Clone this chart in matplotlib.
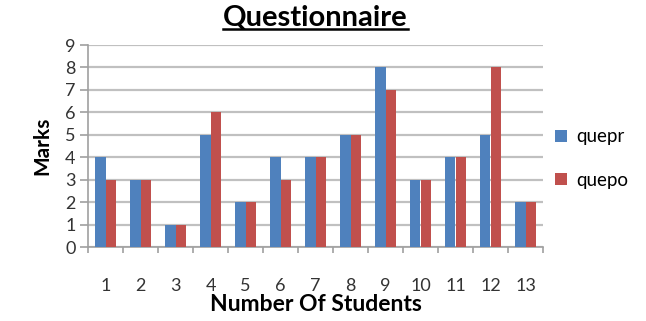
import numpy as np
import matplotlib.pyplot as plt

students = ['1', '2', '3', '4', '5', '6', '7', '8', '9', '10', '11', '12', '13']
quepr = [4, 3, 1, 5, 2, 4, 4, 5, 8, 3, 4, 5, 2]
quepo = [3, 3, 1, 6, 2, 3, 4, 5, 7, 3, 4, 8, 2]

plt.rcParams['font.family'] = ['Lato', 'DejaVu Sans']

fig = plt.figure(figsize=(6.46, 3.21), dpi=100)
ax = fig.add_axes([88/646, 1 - 247/321, (543-88)/646, (247-45)/321])

x = np.arange(len(students))
w = 0.286
ax.bar(x - w/2, quepr, w, color='#4F81BD', label='quepr', zorder=3)
ax.bar(x + w/2, quepo, w, color='#C0504D', label='quepo', zorder=3)

ax.set_xlim(-0.5, len(students) - 0.5)
ax.set_ylim(0, 9)
ax.set_yticks(range(10))
ax.yaxis.grid(True, color='#c0c0c0', linewidth=1.6, zorder=0)
ax.set_xticks(x)
ax.set_xticklabels(students, fontsize=13, color='#333333')
ax.set_xticks(np.arange(-0.5, len(students)), minor=True)
ax.tick_params(axis='x', which='major', length=0, pad=22)
ax.tick_params(axis='x', which='minor', length=4, color='#a0a0a0', width=1.2)
ax.tick_params(axis='y', length=6, color='#a0a0a0', width=1.2, labelsize=13, labelcolor='#333333', pad=3)

for s in ['top', 'right']:
    ax.spines[s].set_visible(False)
for s in ['left', 'bottom']:
    ax.spines[s].set_color('#a0a0a0')
    ax.spines[s].set_linewidth(1.2)

ax.set_ylabel('Marks', fontsize=15, fontweight='bold', labelpad=9)
ax.set_xlabel('Number Of Students', fontsize=16.5, fontweight='bold', labelpad=0)
fig.text((88+543)/2/646, 1 - 18/321, 'Questionnaire', ha='center', va='center',
         fontsize=21, fontweight='bold')
# underline the title
t = fig.texts[-1]
fig.canvas.draw()
bb = t.get_window_extent().transformed(fig.transFigure.inverted())
fig.add_artist(plt.Line2D([bb.x0, bb.x1], [bb.y0 + 0.006, bb.y0 + 0.006], color='black',
                          linewidth=1.8, transform=fig.transFigure))

ax.legend(loc='center left', bbox_to_anchor=(0.99, 0.438), frameon=False, fontsize=13.5,
          handlelength=0.6, handleheight=0.6, labelspacing=1.4, handletextpad=0.5)

fig.savefig('out.png', dpi=100)
